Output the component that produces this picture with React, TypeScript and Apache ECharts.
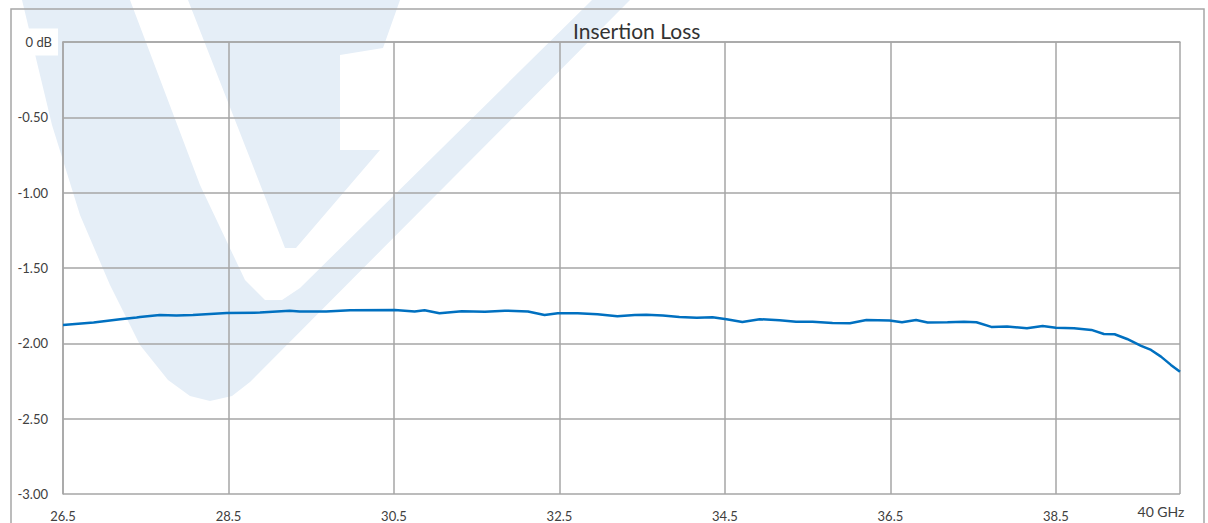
import React, { useEffect, useRef } from "react";
import * as echarts from "echarts";

// Frequency (GHz) and insertion loss (dB)
const freqGHz = [
  26.5, 26.87, 27.19, 27.39, 27.43, 27.67, 27.87, 28.07, 28.48, 28.88, 29.24, 29.36, 29.68, 29.97,
  30.51, 30.75, 30.87, 31.05, 31.32, 31.6, 31.84, 32.12, 32.32, 32.48, 32.72, 32.96, 33.2, 33.41,
  33.55, 33.75, 33.95, 34.16, 34.35, 34.52, 34.71, 34.92, 35.16, 35.36, 35.56, 35.8, 36.01, 36.21,
  36.49, 36.64, 36.81, 36.95, 37.19, 37.39, 37.54, 37.72, 37.91, 38.15, 38.34, 38.5, 38.72, 38.93,
  39.08, 39.21, 39.36, 39.53, 39.65, 39.77, 39.89, 40.0,
];
const lossDb = [
  -1.878, -1.862, -1.84, -1.829, -1.825, -1.812, -1.816, -1.812, -1.798, -1.796, -1.783, -1.789,
  -1.789, -1.78, -1.778, -1.789, -1.78, -1.8, -1.787, -1.79, -1.783, -1.789, -1.812, -1.8, -1.8,
  -1.807, -1.82, -1.812, -1.81, -1.816, -1.825, -1.831, -1.827, -1.84, -1.858, -1.84, -1.847,
  -1.856, -1.856, -1.865, -1.867, -1.845, -1.849, -1.86, -1.845, -1.862, -1.86, -1.856, -1.86,
  -1.891, -1.889, -1.9, -1.885, -1.896, -1.9, -1.911, -1.938, -1.94, -1.971, -2.017, -2.044,
  -2.088, -2.143, -2.188,
];

const title = "Insertion Loss";
const xMin = 26.5;
const xMax = 40;
const xStep = 2;
const yMin = -3;
const yMax = 0;
const yStep = 0.5;
const xEndLabel = "40 GHz";

const WM = "#E5EEF7";

export default function App() {
  const ref = useRef<HTMLDivElement>(null);
  useEffect(() => {
    if (!ref.current) return;
    const chart = echarts.init(ref.current, null, { renderer: "svg" });
    const data = freqGHz.map((f, i) => [f, lossDb[i]]);
    chart.setOption({
      animation: false,
      backgroundColor: "#ffffff",
      title: {
        text: title,
        left: 568,
        top: 15,
        textStyle: { fontFamily: "Lato", fontSize: 21, fontWeight: "normal", color: "#333333" },
      },
      grid: { left: 63, top: 42, right: 28, bottom: 29, containLabel: false },
      xAxis: {
        type: "value",
        min: xMin,
        max: xMax,
        interval: xStep,
        axisLine: { show: true, lineStyle: { color: "#A6A6A6", width: 1.5 } },
        axisTick: { show: false },
        splitLine: { show: true, lineStyle: { color: "#A6A6A6", width: 1.5 } },
        axisLabel: {
          margin: 15,
          color: "#404040",
          fontFamily: "Lato",
          fontSize: 13,
          formatter: (v: number) => (v >= xMax ? "" : v.toFixed(1)),
        },
      },
      yAxis: {
        type: "value",
        min: yMin,
        max: yMax,
        interval: yStep,
        axisLine: { show: true, lineStyle: { color: "#A6A6A6", width: 1.5 } },
        axisTick: { show: false },
        splitLine: { show: true, lineStyle: { color: "#A6A6A6", width: 1.5 } },
        axisLabel: {
          margin: 5,
          color: "#404040",
          fontFamily: "Lato",
          fontSize: 13,
          formatter: (v: number) => (v === 0 ? "{db|0 dB}" : "{n|" + v.toFixed(2) + "}"),
          rich: {
            n: { fontFamily: "Lato", fontSize: 13, color: "#404040", padding: [0, 10, 0, 0] },
            db: {
              fontFamily: "Lato",
              fontSize: 13,
              color: "#404040",
              backgroundColor: "#ffffff",
              padding: [7, 6, 7, 4],
            },
          },
        },
      },
      graphic: [
        // outer frame
        {
          type: "rect",
          z: -5,
          silent: true,
          shape: { x: 11, y: 9, width: 1193, height: 540 },
          style: { fill: "none", stroke: "#A6A6A6", lineWidth: 1.5 },
        },
        // watermark: outer V
        {
          type: "polygon",
          z: -10,
          silent: true,
          shape: {
            points: [
              [22, 0], [130, 0], [200, 185], [245, 280], [265, 300], [282, 300], [300, 288],
              [592, 0], [630, 0], [250, 382], [232, 396], [210, 401], [190, 396], [168, 380],
              [140, 345], [110, 285], [80, 215], [52, 125],
            ],
          },
          style: { fill: WM },
        },
        // watermark: inner wedge
        {
          type: "polygon",
          z: -10,
          silent: true,
          shape: {
            points: [[188, 0], [400, 0], [383, 48], [340, 55], [340, 150], [380, 150], [296, 248], [285, 248]],
          },
          style: { fill: WM },
        },
        {
          type: "text",
          z: 10,
          style: {
            text: xEndLabel,
            x: 1161,
            y: 511,
            align: "center",
            verticalAlign: "middle",
            fill: "#404040",
            font: "14px Lato",
          },
        },
      ],
      series: [
        {
          type: "line",
          data,
          showSymbol: false,
          symbol: "none",
          smooth: false,
          lineStyle: { color: "#0070C0", width: 2.5 },
          z: 5,
        },
      ],
    });
    return () => chart.dispose();
  }, []);
  return (
    <div
      ref={ref}
      style={{ position: "absolute", left: 0, top: 0, width: 1208, height: 523 }}
    />
  );
}
